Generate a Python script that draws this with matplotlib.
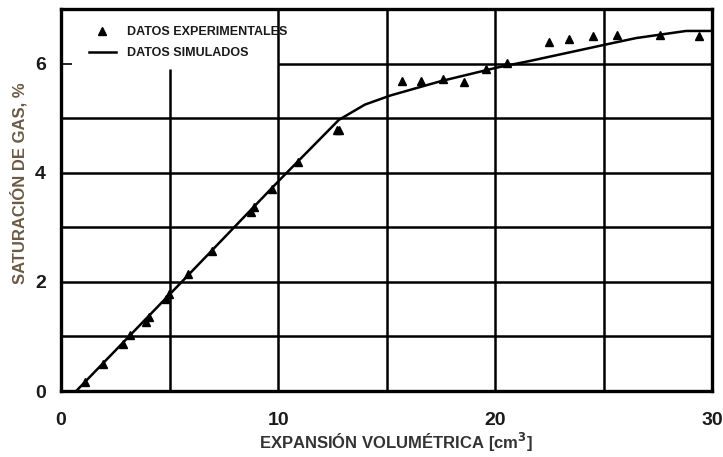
import matplotlib
matplotlib.use('Agg')
import matplotlib.pyplot as plt
from matplotlib.lines import Line2D

# experimental points (triangles)
exp_x = [1.1, 1.92, 2.87, 3.18, 3.92, 4.07, 4.84, 4.99, 5.87, 6.94,
         8.75, 8.9, 9.71, 10.94, 12.7, 12.8,
         15.7, 16.6, 17.6, 18.57, 19.57, 20.54, 22.46, 23.4, 24.5, 25.6, 27.6, 29.4]
exp_y = [0.17, 0.49, 0.87, 1.02, 1.27, 1.36, 1.68, 1.77, 2.14, 2.57,
         3.29, 3.38, 3.71, 4.19, 4.78, 4.79,
         5.69, 5.69, 5.72, 5.67, 5.9, 6.02, 6.39, 6.46, 6.5, 6.52, 6.53, 6.5]

# simulated curve
sim_x = [0.7, 5.56, 10.1, 12.8, 14.0, 15.2, 17.5, 20.1, 21.6, 25.2, 26.5, 28.8, 30.0]
sim_y = [0.0, 2.0, 3.88, 4.97, 5.25, 5.42, 5.68, 5.93, 6.05, 6.36, 6.47, 6.6, 6.6]

x_ticks = [0, 10, 20, 30]
y_ticks = [0, 2, 4, 6]

plt.rcParams['font.family'] = ['Liberation Sans', 'DejaVu Sans']
plt.rcParams['font.weight'] = 'bold'

fig = plt.figure(figsize=(7.23, 4.57), dpi=100)
ax = fig.add_axes([0.0844, 0.1444, 0.9006, 0.8356])
ax.set_xlim(0, 30)
ax.set_ylim(0, 7)

# grid drawn by hand since some lines are partial
for yy in [1, 2, 3, 4, 5]:
    ax.hlines(yy, 0, 30, color='black', lw=1.8, zorder=1)
ax.hlines(6, 10, 30, color='black', lw=1.8, zorder=1)
ax.hlines(6, 0, 0.5, color='black', lw=1.2, zorder=1)
ax.vlines(5, 0, 5.9, color='black', lw=1.8, zorder=1)
for xx in [10, 15, 20, 25]:
    ax.vlines(xx, 0, 7, color='black', lw=1.8, zorder=1)

ax.plot(sim_x, sim_y, color='black', lw=1.8, zorder=2)
ax.plot(exp_x, exp_y, linestyle='none', marker='^', color='black', ms=6, zorder=3)

for s in ax.spines.values():
    s.set_linewidth(2.4)

ax.set_xticks(x_ticks)
ax.set_yticks(y_ticks)
ax.tick_params(length=0, labelsize=14, colors='#1a1a1a')
ax.tick_params(axis='x', pad=15)
ax.tick_params(axis='y', pad=11)

ax.set_xlabel('EXPANSIÓN VOLUMÉTRICA [cm$^\\mathbf{3}$]', fontsize=12,
              fontweight='bold', color='#333333')
ax.xaxis.set_label_coords(0.515, -0.105)
ax.set_ylabel('SATURACIÓN DE GAS, %', fontsize=12, fontweight='bold', color='#6b5a45')
ax.yaxis.set_label_coords(-0.052, 0.545)

handles = [Line2D([], [], linestyle='none', marker='^', color='black', ms=5.5),
           Line2D([], [], color='black', lw=1.8)]
leg = ax.legend(handles, ['DATOS EXPERIMENTALES', 'DATOS SIMULADOS'],
                loc='upper left', bbox_to_anchor=(0.025, 0.985), frameon=False,
                prop={'size': 9, 'weight': 'bold'}, handlelength=2.2,
                handletextpad=0.9, labelspacing=0.75)
for t in leg.get_texts():
    t.set_color('#1a1a1a')

fig.savefig('out.png', dpi=100)
